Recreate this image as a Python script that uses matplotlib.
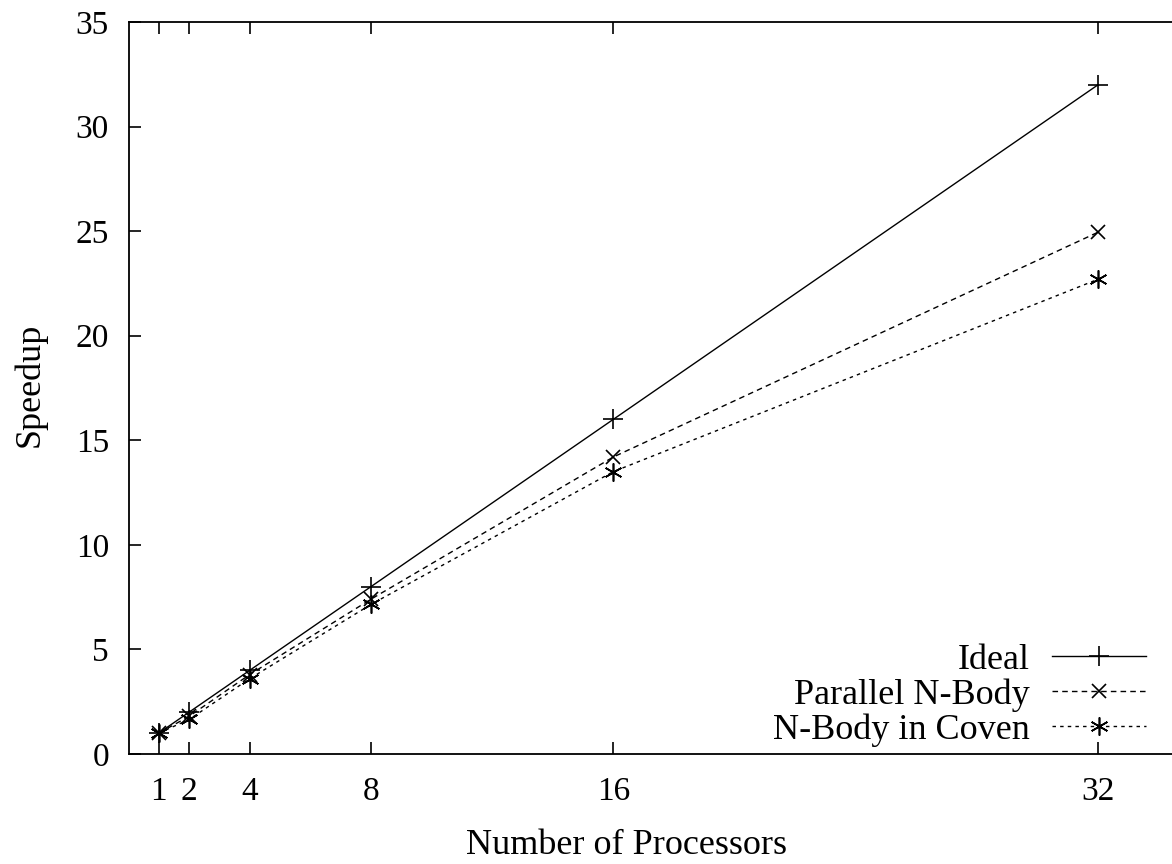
import matplotlib
matplotlib.use("Agg")
import matplotlib.pyplot as plt

processors = [1, 2, 4, 8, 16, 32]
ideal = [1, 2, 4, 8, 16, 32]
parallel_nbody = [1, 1.8, 3.8, 7.4, 14.2, 24.95]
nbody_coven = [1, 1.65, 3.6, 7.15, 13.5, 22.7]
y_ticks = [0, 5, 10, 15, 20, 25, 30, 35]

plt.rcParams['font.family'] = ['Liberation Serif', 'DejaVu Serif']
FS_TICK = 24
FS_TEXT = 26

fig = plt.figure(figsize=(11.72, 8.64), dpi=100)
W, H = 1172, 864
left, right, top, bottom = 128.5, 1189, 22, 754
ax = fig.add_axes([left / W, 1 - bottom / H, (right - left) / W, (bottom - top) / H])

star = (6, 2, 0)
ax.plot(processors, ideal, color='black', lw=1.0, ls='-', marker='+', ms=14, mew=1.2, label='Ideal')
ax.plot(processors, parallel_nbody, color='black', lw=1.0, ls=(0, (4, 3)), marker='x', ms=10, mew=1.2,
        label='Parallel N-Body')
ax.plot(processors, nbody_coven, color='black', lw=1.0, ls=(0, (2.5, 3)), marker=star, ms=13, mew=1.2,
        label='N-Body in Coven')

ax.set_xlim(0, 35)
ax.set_ylim(0, 35)
ax.set_xticks(processors)
ax.set_yticks(y_ticks)
ax.tick_params(direction='in', length=8.5, width=1.2, labelsize=FS_TICK, top=True, right=False)
ax.tick_params(axis='y', pad=14)
ax.tick_params(axis='x', pad=16)
for s in ax.spines.values():
    s.set_linewidth(1.3)
ax.spines['right'].set_visible(False)

fig.text(626 / W, 1 - 846 / H, 'Number of Processors', ha='center', va='center', fontsize=FS_TEXT)
fig.text(30 / W, 1 - 385 / H, 'Speedup', ha='center', va='center', fontsize=FS_TEXT, rotation=90)

fs_px = FS_TEXT * 100 / 72
leg = ax.legend(loc='lower right', bbox_to_anchor=(1146 / W, 1 - 747 / H), bbox_transform=fig.transFigure,
                frameon=False, markerfirst=False, fontsize=FS_TEXT, handlelength=94 / fs_px,
                handletextpad=22 / fs_px, labelspacing=0.04, borderpad=0, borderaxespad=0)

fig.savefig('out.png', dpi=100)
